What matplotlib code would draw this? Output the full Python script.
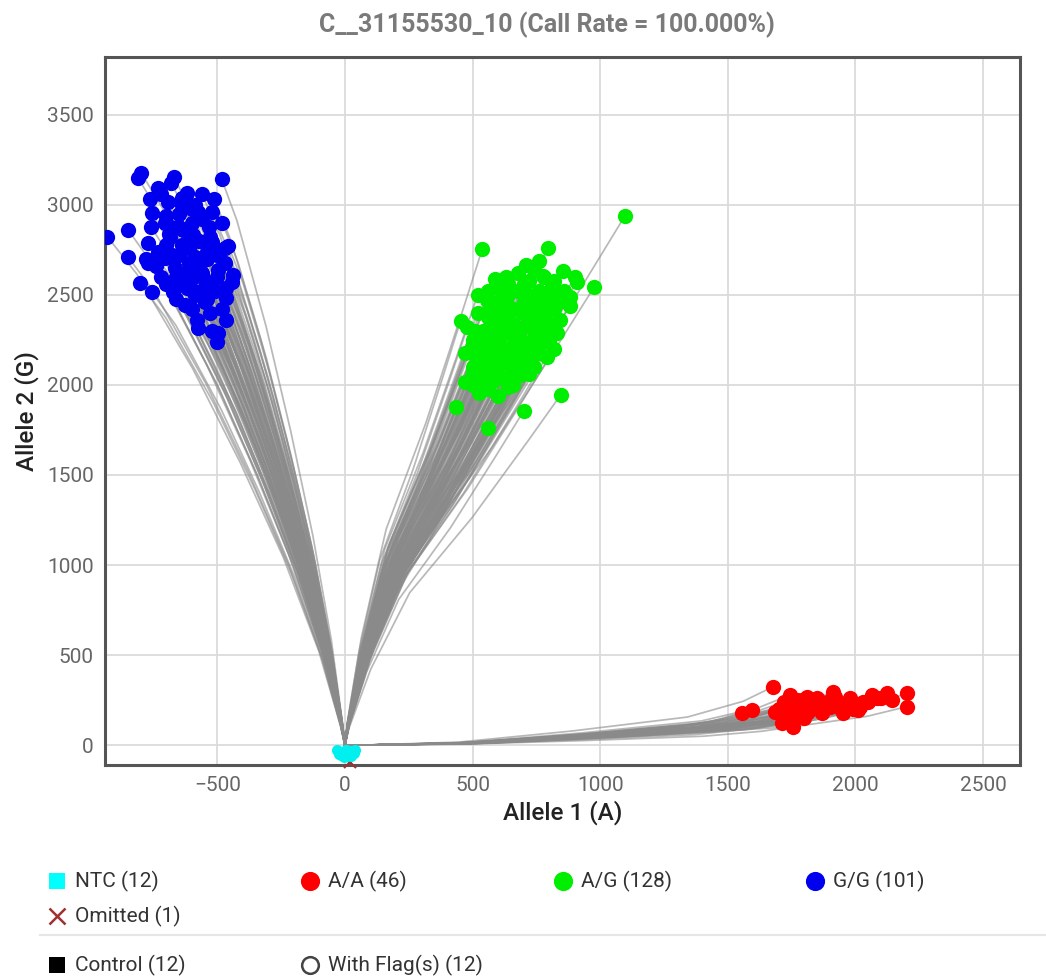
import numpy as np
import matplotlib
matplotlib.use("Agg")
import matplotlib.pyplot as plt

plt.rcParams['font.family'] = ['Roboto', 'DejaVu Sans']

# final endpoint of each well (Allele 1, Allele 2)
gg_x = [-797, -810, -670, -483, -734, -764, -692, -620, -640, -588, -512, -757, -575,
        -705, -849, -931, -532, -634, -686, -594, -771, -620, -522, -457, -851, -732,
        -705, -771, -588, -562, -666, -496, -438, -803, -757, -653, -601, -536, -673,
        -588, -464, -627, -549, -464, -529, -464, -575, -496, -503, -444, -679, -640,
        -610, -560, -700, -650, -540, -600, -720, -620, -560, -680,
        -700, -660, -620, -580, -540, -500, -650, -610, -570, -530, -690, -650, -610,
        -560, -700, -640, -600, -720, -680, -560, -520, -480, -500, -470, -540, -600,
        -580, -520, -480, -660, -740, -780, -760, -720, -630, -590, -550, -510, -470]
gg_y = [3176, 3148, 3154, 3144, 3096, 3032, 3018, 3065, 3000, 3000, 3032, 2954, 2963,
        2902, 2861, 2824, 2880, 2861, 2824, 2833, 2787, 2787, 2793, 2774, 2713, 2741,
        2704, 2676, 2713, 2685, 2648, 2639, 2611, 2565, 2518, 2574, 2593, 2565, 2518,
        2500, 2537, 2444, 2463, 2482, 2398, 2361, 2318, 2287, 2241, 2574, 2722, 2778,
        2680, 2620, 2780, 2950, 2740, 2900, 2600, 2540, 2520, 2880,
        2560, 2600, 2620, 2660, 2700, 2720, 2720, 2760, 2800, 2820, 2840, 2880, 2840,
        2920, 2940, 3040, 2980, 3060, 3120, 3060, 2960, 2900, 2600, 2680, 2480, 2420,
        2360, 2300, 2420, 2480, 2660, 2700, 2880, 2740, 2560, 2520, 2580, 2520, 2760]

ag_x = [1097, 538, 797, 709, 761, 777, 855, 588, 631, 692, 908, 976, 555, 568, 453,
        764, 830, 882, 634, 699, 842, 509, 581, 830, 496, 568, 673, 751, 790, 516,
        634, 712, 503, 581, 686, 470, 647, 526, 845, 435, 701, 562, 738, 673, 764,
        607, 725, 620, 790, 542, 620, 700, 660, 600, 750, 690, 560, 640, 810, 720,
        520, 560, 600, 640, 680, 720, 760, 800, 540, 580, 620, 660, 700, 740, 780,
        820, 500, 540, 580, 620, 660, 700, 740, 780, 520, 560, 600, 640, 680, 720,
        760, 800, 540, 580, 620, 660, 700, 740, 500, 560, 600, 640, 600, 640, 680,
        720, 760, 840, 860, 900, 880, 820, 760, 680, 740, 780, 820, 560, 520, 480,
        470, 500, 820, 720, 660, 600, 640, 700]
ag_y = [2939, 2754, 2763, 2667, 2689, 2606, 2633, 2587, 2602, 2528, 2574, 2543, 2472,
        2417, 2357, 2472, 2509, 2491, 2380, 2398, 2361, 2302, 2315, 2287, 2213, 2194,
        2231, 2250, 2157, 2139, 2120, 2120, 2065, 2065, 2056, 2019, 2009, 1954, 1944,
        1876, 1857, 1759, 2361, 2306, 2306, 2269, 2185, 2185, 2417, 2250, 2420, 2460,
        2340, 2100, 2400, 2160, 2150, 2500, 2550, 2580,
        2400, 2380, 2360, 2380, 2420, 2440, 2460, 2480, 2300, 2280, 2300, 2280, 2320,
        2340, 2380, 2420, 2250, 2200, 2240, 2200, 2220, 2240, 2260, 2300, 2120, 2080,
        2140, 2160, 2120, 2180, 2220, 2240, 2040, 2020, 2040, 2060, 2080, 2100, 2000,
        1980, 1940, 1990, 2540, 2560, 2520, 2500, 2520, 2460, 2520, 2600, 2440, 2340,
        2180, 2620, 2640, 2600, 2580, 2520, 2500, 2320, 2180, 2100, 2200, 2060, 2000,
        2460, 2440, 2560]

aa_x = [1678, 1554, 1594, 1685, 1744, 1809, 1848, 1913, 1731, 1783, 1861, 1711, 1757,
        1731, 1809, 1933, 1953, 1940, 2018, 2031, 2064, 2083, 2123, 2142, 2201, 2201,
        1888, 1770, 1822, 1920, 2011, 1764,
        1700, 1720, 1760, 1790, 1800, 1830, 1850, 1870, 1900, 1960, 1980, 1990, 2050, 2100]
aa_y = [324, 180, 194, 185, 278, 268, 259, 296, 213, 213, 232, 120, 102, 157, 176, 241,
        176, 204, 213, 241, 278, 259, 287, 250, 287, 213, 241, 250, 213, 268, 194, 157,
        200, 240, 180, 250, 150, 200, 230, 180, 210, 230, 260, 200, 240, 260]

ntc_x = [-30, -15, 0, 10, 20, 35, -25, 5, 25, 40, -5, 15]
ntc_y = [-30, -55, -40, -60, -35, -45, -50, -25, -60, -30, -65, -45]

omit_x = [20]
omit_y = [-95]

# average shape of the amplification path, as fraction of the endpoint
gg_fx = [0, 0.02, 0.11, 0.26, 0.44, 0.64, 0.875, 1]
gg_fy = [0, 0.04, 0.185, 0.37, 0.555, 0.74, 0.926, 1]
ag_fx = [0, 0.02, 0.12, 0.30, 0.59, 0.85, 1]
ag_fy = [0, 0.05, 0.217, 0.435, 0.65, 0.87, 1]
aa_fx = [0, 0.05, 0.266, 0.53, 0.8, 0.93, 1]
aa_fy = [0, 0.0, 0.05, 0.24, 0.48, 0.75, 1]

legend_rows = [
    [("NTC (12)", 's', '#00ffff', 'none'), ("A/A (46)", 'o', '#ff0000', 'none'),
     ("A/G (128)", 'o', '#00ee00', 'none'), ("G/G (101)", 'o', '#0000ee', 'none')],
    [("Omitted (1)", 'x', '#a03030', 'none')],
    [("Control (12)", 's', '#000000', 'none'), ("With Flag(s) (12)", 'o', 'none', '#444444')],
]

W, H = 1046, 977
fig = plt.figure(figsize=(W / 100, H / 100), dpi=100)
ax = fig.add_axes([105 / W, 1 - 765 / H, 915 / W, 708 / H])

trace_kw = dict(color='#8a8a8a', lw=1.25, alpha=0.6, zorder=2)
for xs, ys, fx, fy in [(gg_x, gg_y, gg_fx, gg_fy), (ag_x, ag_y, ag_fx, ag_fy),
                       (aa_x, aa_y, aa_fx, aa_fy)]:
    for x, y in zip(xs, ys):
        ax.plot(np.array(fx) * x, np.array(fy) * y, **trace_kw)

ax.plot(omit_x, omit_y, 'x', color='#a03030', ms=8, mew=1.5, zorder=3, clip_on=False)
ax.plot(ntc_x, ntc_y, 'o', color='#00f0f0', ms=8, mec='none', zorder=4)
ax.plot(aa_x, aa_y, 'o', color='#ff0000', ms=11, mec='none', zorder=5)
ax.plot(ag_x, ag_y, 'o', color='#00ee00', ms=11, mec='none', zorder=5)
ax.plot(gg_x, gg_y, 'o', color='#0000ee', ms=11, mec='none', zorder=5)

ax.set_xlim(-940, 2645)
ax.set_ylim(-111, 3822)
ax.set_xticks(range(-500, 3000, 500))
ax.set_yticks(range(0, 4000, 500))
ax.grid(color='#d8d8d8', lw=1.2, zorder=0)
ax.set_axisbelow(True)
ax.tick_params(length=0, labelsize=15, labelcolor='#666666', pad=8)
for s in ax.spines.values():
    s.set_color('#555555')
    s.set_linewidth(2.2)

ax.set_xlabel("Allele 1 (A)", fontsize=17.5, color='#222222', weight='medium', labelpad=4)
ax.set_ylabel("Allele 2 (G)", fontsize=17.5, color='#222222', weight='medium', labelpad=6)
fig.text(547 / W, 1 - 25 / H, "C__31155530_10 (Call Rate = 100.000%)", ha='center',
         va='center', fontsize=18, color='#7a7a7a', weight='bold')

# legend block under the plot, laid out in pixel coordinates
lax = fig.add_axes([0, 0, 1, 1])
lax.set_xlim(0, W)
lax.set_ylim(H, 0)
lax.axis('off')
row_y = [881, 916, 965]
col_x = [57, 310, 563, 815]
for ry, row in zip(row_y, legend_rows):
    for cx, (label, mk, fc, ec) in zip(col_x, row):
        lax.plot([cx], [ry], mk, color=fc if fc != 'none' else ec, mfc=fc,
                 mec=ec if ec != 'none' else fc, ms=12 if mk != 'x' else 11,
                 mew=1.8 if mk != 's' else 0)
        lax.text(cx + 18, ry, label, va='center', ha='left', fontsize=15, color='#333333')
lax.plot([40, W], [935, 935], color='#e6e6e6', lw=1.5)

fig.savefig("out.png", dpi=100)
